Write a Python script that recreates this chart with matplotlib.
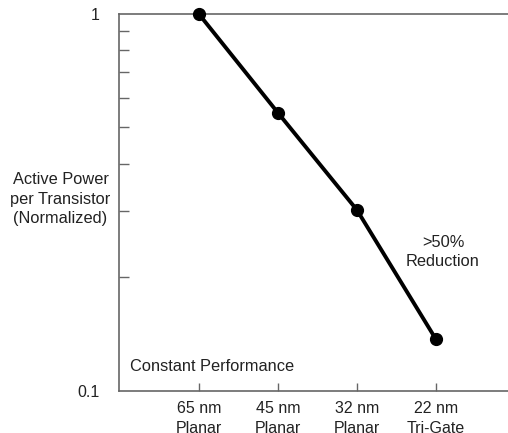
import matplotlib.pyplot as plt
from matplotlib.ticker import FixedLocator, NullFormatter

plt.rcParams['font.family'] = ['Liberation Sans', 'DejaVu Sans']

# данные: мощность на транзистор, нормированная
nodes = ['65 nm\nPlanar', '45 nm\nPlanar', '32 nm\nPlanar', '22 nm\nTri-Gate']
power = [1.0, 0.547, 0.302, 0.137]
minor_ticks = [0.2, 0.3, 0.4, 0.5, 0.6, 0.7, 0.8, 0.9]

fig = plt.figure(figsize=(5.08, 4.33), dpi=100)
ax = fig.add_axes([0.234, 0.097, 0.766, 0.871])

x = list(range(len(nodes)))
ax.plot(x, power, color='black', linewidth=2.8, marker='o', markersize=8.5,
        clip_on=False, zorder=5)

ax.set_yscale('log')
ax.set_ylim(0.1, 1)
ax.set_xlim(-1.01, 3.91)

# оси
for side in ['left', 'bottom', 'top']:
    ax.spines[side].set_color('#666666')
    ax.spines[side].set_linewidth(1.2)
ax.spines['right'].set_visible(False)

ax.set_xticks(x)
ax.set_xticklabels(nodes)
ax.tick_params(axis='x', direction='in', length=6, width=1, color='#666666',
               pad=7, labelsize=11.5, labelcolor='#222222')
for lbl in ax.get_xticklabels():
    lbl.set_linespacing(1.45)

ax.yaxis.set_major_locator(FixedLocator([0.1, 1]))
ax.set_yticklabels(['0.1', '1'])
ax.yaxis.set_minor_locator(FixedLocator(minor_ticks))
ax.yaxis.set_minor_formatter(NullFormatter())
ax.tick_params(axis='y', which='major', length=0, pad=14, labelsize=11.5,
               labelcolor='#222222')
ax.tick_params(axis='y', which='minor', direction='in', length=7, width=1,
               color='#666666')

fig.text(0.119, 0.54, 'Active Power\nper Transistor\n(Normalized)',
         ha='center', va='center', fontsize=11.8, color='#222222',
         linespacing=1.4)

ax.text(0.028, 0.066, 'Constant Performance', transform=ax.transAxes,
        ha='left', va='center', fontsize=11.8, color='#222222')
ax.text(0.833, 0.369, '>50%\nReduction', transform=ax.transAxes,
        ha='center', va='center', fontsize=11.8, color='#222222',
        linespacing=1.35)

plt.savefig('out.png', dpi=100)
